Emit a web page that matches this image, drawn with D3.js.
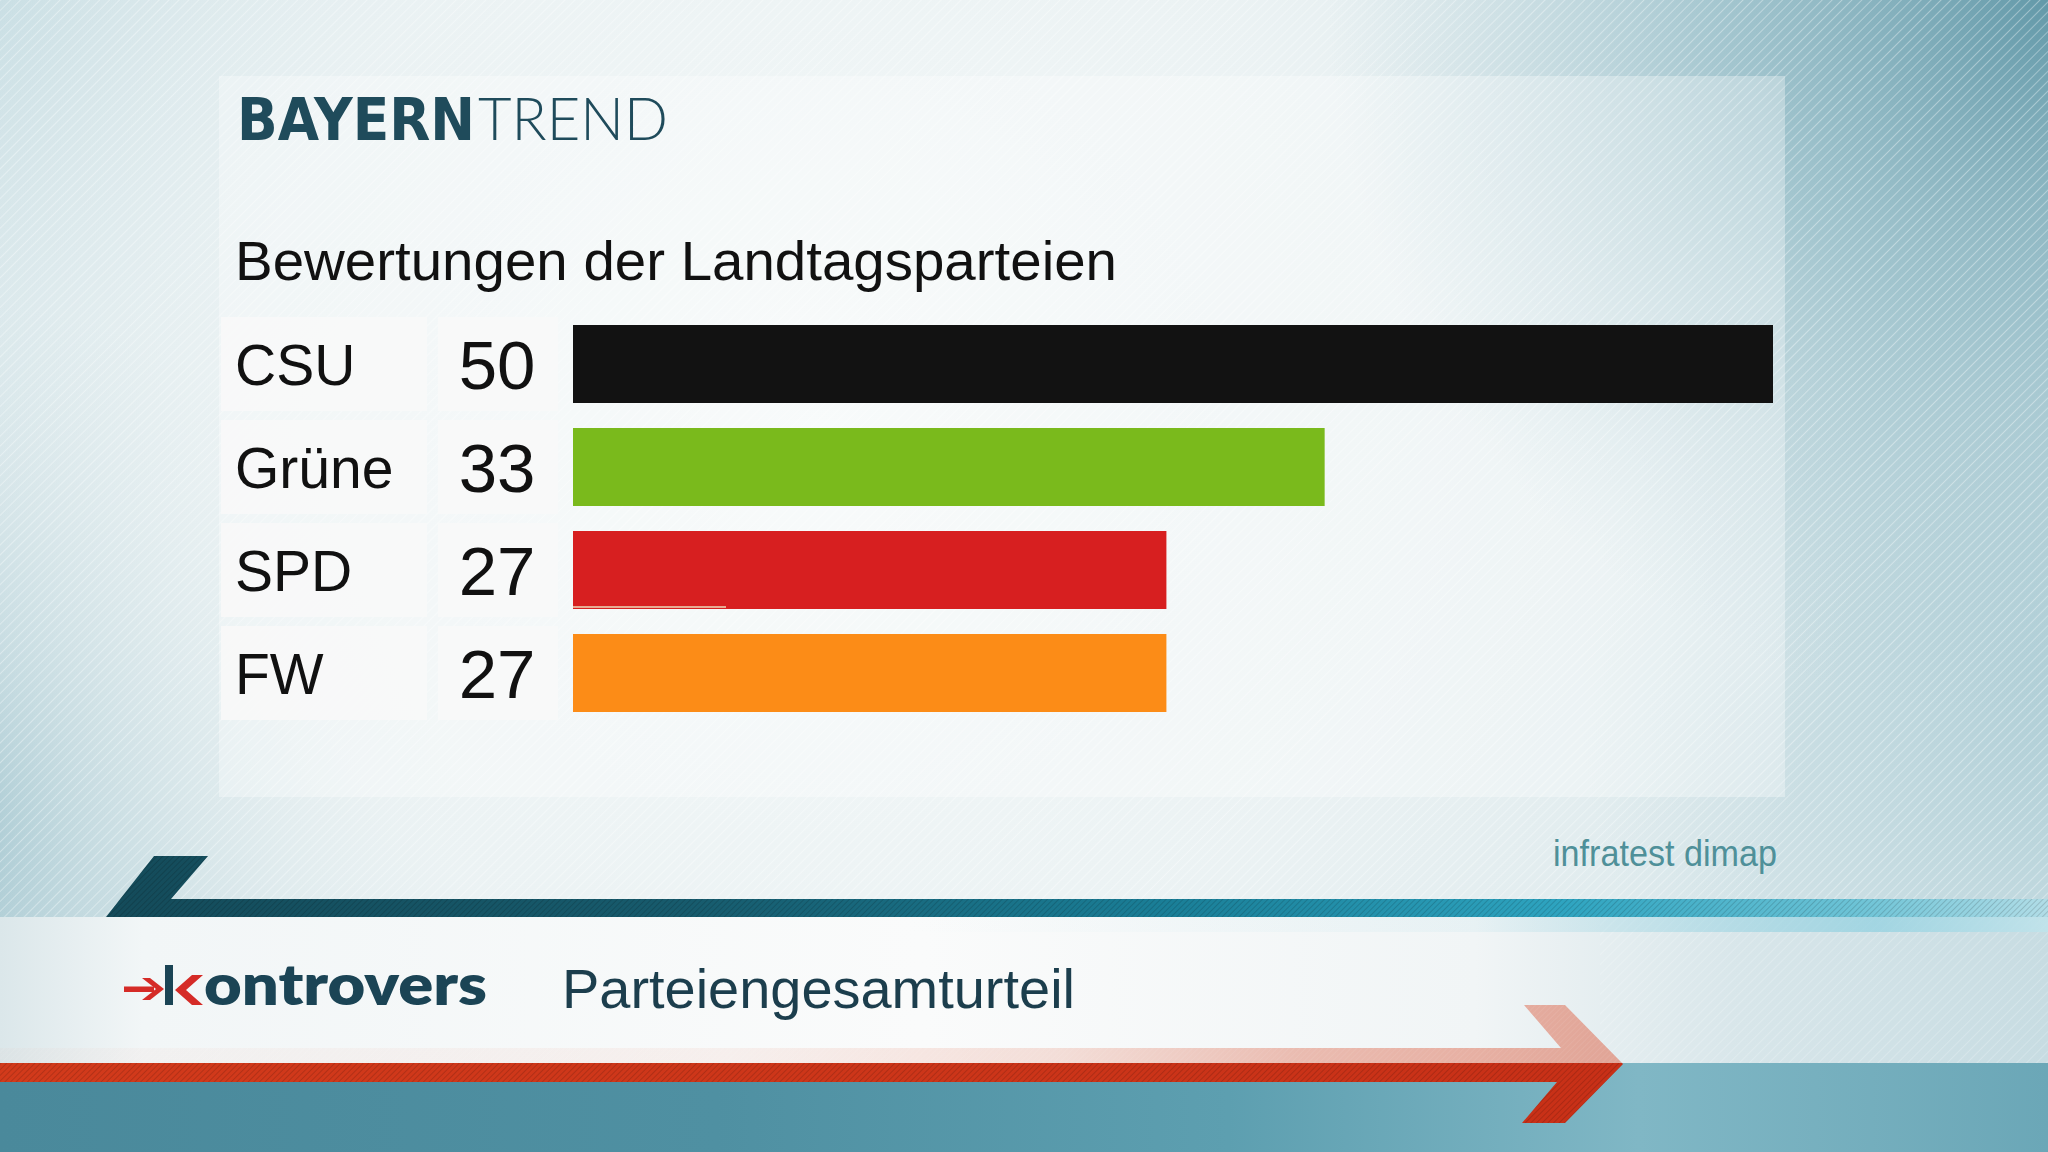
<!DOCTYPE html>
<html>
<head>
<meta charset="utf-8">
<script src="https://cdn.jsdelivr.net/npm/d3@7"></script>
<style>
html,body{margin:0;padding:0;overflow:hidden;background:#e3edef;}
svg{display:block;}
</style>
</head>
<body>
<script>
// ---- data ----
const parties = ["CSU", "Grüne", "SPD", "FW"];
const values = [50, 33, 27, 27];
const barColors = ["#121212", "#7aba1c", "#d71f20", "#fc8c17"];
const brandBold = "BAYERN";
const brandLight = "TREND";
const chartTitle = "Bewertungen der Landtagsparteien";
const sourceLabel = "infratest dimap";
const showName = "ontrovers";
const topicLabel = "Parteiengesamturteil";

const W = 2048, H = 1152;
const svg = d3.select("body").append("svg").attr("width", W).attr("height", H);
const defs = svg.append("defs");

function linGrad(id, stops, x1 = 0, y1 = 0, x2 = 1, y2 = 0, units) {
  const g = defs.append("linearGradient").attr("id", id)
    .attr("x1", x1).attr("y1", y1).attr("x2", x2).attr("y2", y2);
  if (units) g.attr("gradientUnits", units);
  stops.forEach(s => g.append("stop").attr("offset", s[0]).attr("stop-color", s[1]).attr("stop-opacity", s[2] == null ? 1 : s[2]));
}
function radGrad(id, cx, cy, r, stops) {
  const g = defs.append("radialGradient").attr("id", id)
    .attr("gradientUnits", "userSpaceOnUse").attr("cx", cx).attr("cy", cy).attr("r", r);
  stops.forEach(s => g.append("stop").attr("offset", s[0]).attr("stop-color", s[1]).attr("stop-opacity", s[2] == null ? 1 : s[2]));
}
function stripes(id, size, color, width, op) {
  const p = defs.append("pattern").attr("id", id).attr("patternUnits", "userSpaceOnUse")
    .attr("width", size).attr("height", size).attr("patternTransform", "rotate(45)");
  p.append("line").attr("x1", 0).attr("y1", 0).attr("x2", 0).attr("y2", size)
    .attr("stroke", color).attr("stroke-width", width).attr("stroke-opacity", op);
}

radGrad("glowC", 820, 430, 1050, [[0, "#f5f9f9", 1], [0.55, "#eef4f5", 0.85], [1, "#eef4f5", 0]]);
radGrad("cornerTR", 2048, 0, 720, [[0, "#6399a9", 1], [0.45, "#8ab6c2", 0.7], [1, "#a9cad3", 0]]);
radGrad("edgeL", -60, 820, 520, [[0, "#94bdc8", 1], [1, "#a9cad3", 0]]);
radGrad("cornerTL", 0, 0, 520, [[0, "#bcd7de", 0.9], [1, "#bcd7de", 0]]);
radGrad("edgeR", 2100, 700, 520, [[0, "#a8cad3", 0.9], [1, "#a8cad3", 0]]);
stripes("bgStripes", 7, "#ffffff", 2, 0.35);
stripes("fineDark", 4, "#000000", 1.3, 0.22);
stripes("fineLight", 4, "#ffffff", 1.3, 0.18);

linGrad("bandGrad", [[0, "#dbe7ea"], [0.07, "#f2f6f7"], [0.45, "#fafbfb"], [0.72, "#f1f5f6"], [0.85, "#d8e6ea"], [1, "#c7dce2"]]);
linGrad("lowGrad", [[0, "#4a899b"], [0.35, "#4f90a2"], [0.6, "#5d9fb0"], [0.8, "#80b7c5"], [1, "#6ba7b7"]]);
linGrad("tealGrad", [[0, "#144b5a"], [0.3, "#175b6d"], [0.55, "#1a7f98"], [0.75, "#2ea4c0"], [0.9, "#6cc3d6"], [1, "#b1dde7"]]);
linGrad("tealGlow", [[0, "#8fd0e0", 0], [0.5, "#8fd0e0", 0.1], [0.85, "#8fd0e0", 0.7], [1, "#bfe4ec", 0.8]]);
linGrad("redGrad", [[0, "#d23a1b"], [0.6, "#cc3519"], [1, "#c83017"]]);
linGrad("redPale", [[0, "#e58a72", 0.04], [0.45, "#e58a72", 0.1], [0.65, "#e58a72", 0.25], [0.8, "#e08069", 0.5], [1, "#df7d66", 0.65]]);

// ---- background ----
svg.append("rect").attr("width", W).attr("height", H).attr("fill", "#dce9ec");
svg.append("rect").attr("width", W).attr("height", 917).attr("fill", "url(#cornerTL)");
svg.append("rect").attr("width", W).attr("height", 917).attr("fill", "url(#edgeL)");
svg.append("rect").attr("width", W).attr("height", 917).attr("fill", "url(#edgeR)");
svg.append("rect").attr("width", W).attr("height", 917).attr("fill", "url(#glowC)");
svg.append("rect").attr("width", W).attr("height", 917).attr("fill", "url(#cornerTR)");
svg.append("rect").attr("width", W).attr("height", 917).attr("fill", "url(#bgStripes)");

// panel
svg.append("rect").attr("x", 219).attr("y", 76).attr("width", 1566).attr("height", 721)
  .attr("fill", "#ffffff").attr("fill-opacity", 0.32);

// ---- brand ----
svg.append("text").attr("x", 237).attr("y", 140)
  .attr("font-family", "DejaVu Sans, sans-serif").attr("font-weight", 700).attr("font-size", 58)
  .attr("fill", "#1f4b5b").attr("textLength", 238).attr("lengthAdjust", "spacingAndGlyphs").text(brandBold);
svg.append("text").attr("x", 478).attr("y", 140)
  .attr("font-family", "Lato, sans-serif").attr("font-weight", 300).attr("font-size", 60)
  .attr("fill", "#1f4b5b").attr("textLength", 190).attr("lengthAdjust", "spacingAndGlyphs").text(brandLight);

svg.append("text").attr("x", 235).attr("y", 280)
  .attr("font-family", "Liberation Sans, Arial, sans-serif").attr("font-size", 55)
  .attr("fill", "#111").attr("textLength", 882).attr("lengthAdjust", "spacingAndGlyphs").text(chartTitle);

// ---- chart ----
const y = d3.scalePoint().domain(parties).range([364, 673]);
// bar lengths as rendered in the graphic (bars start at the left edge of the bar area)
const x0 = 4.5;
const x = d3.scaleLinear().domain([x0, 50]).range([573, 1773]);
const barH = 78, cellH = 94;

const rows = svg.append("g").selectAll("g").data(parties).join("g")
  .attr("transform", d => `translate(0,${y(d)})`);

rows.append("rect").attr("x", 221).attr("y", -cellH / 2).attr("width", 206).attr("height", cellH)
  .attr("fill", "#f8f8f8").attr("fill-opacity", 0.9);
rows.append("rect").attr("x", 438).attr("y", -cellH / 2).attr("width", 120).attr("height", cellH)
  .attr("fill", "#f8f8f8").attr("fill-opacity", 0.9);

rows.append("rect").attr("x", x(x0)).attr("y", -barH / 2)
  .attr("width", (d, i) => x(values[i]) - x(x0)).attr("height", barH)
  .attr("fill", (d, i) => barColors[i]);

rows.append("text").attr("x", 235).attr("y", 21)
  .attr("font-family", "Liberation Sans, Arial, sans-serif").attr("font-size", 57)
  .attr("fill", "#111").text(d => d);
rows.append("text").attr("x", 497).attr("y", 25).attr("text-anchor", "middle")
  .attr("font-family", "Liberation Sans, Arial, sans-serif").attr("font-size", 69)
  .attr("fill", "#111").text((d, i) => values[i]);

// small residual line under the SPD bar
svg.append("rect").attr("x", 573).attr("y", 606).attr("width", 153).attr("height", 2)
  .attr("fill", "#e7ab93");

// source
svg.append("text").attr("x", 1553).attr("y", 866)
  .attr("font-family", "Liberation Sans, Arial, sans-serif").attr("font-size", 36)
  .attr("fill", "#4f9099").attr("textLength", 224).attr("lengthAdjust", "spacingAndGlyphs").text(sourceLabel);

// ---- lower band ----
svg.append("rect").attr("x", 0).attr("y", 917).attr("width", W).attr("height", 150).attr("fill", "url(#bandGrad)");
svg.append("rect").attr("x", 0).attr("y", 1063).attr("width", W).attr("height", 89).attr("fill", "url(#lowGrad)");
svg.append("rect").attr("x", 1600).attr("y", 917).attr("width", 448).attr("height", 146).attr("fill", "url(#bgStripes)").attr("opacity", 0.6);

// teal arrow
const tealPts = [[154, 856], [208, 856], [171, 899], [2048, 899], [2048, 917], [106, 917]];
svg.append("rect").attr("x", 900).attr("y", 917).attr("width", 1148).attr("height", 15).attr("fill", "url(#tealGlow)");
svg.append("polygon").attr("points", tealPts.map(p => p.join(",")).join(" ")).attr("fill", "url(#tealGrad)");
svg.append("polygon").attr("points", tealPts.map(p => p.join(",")).join(" ")).attr("fill", "url(#fineDark)");

// red arrow
const redPts = [[0, 1048], [1561, 1048], [1524, 1005], [1565, 1005], [1623, 1064], [1565, 1123], [1522, 1123], [1557, 1082], [0, 1082]];
defs.append("clipPath").attr("id", "clipLow").append("rect").attr("x", 0).attr("y", 1063).attr("width", W).attr("height", 200);
defs.append("clipPath").attr("id", "clipHigh").append("rect").attr("x", 0).attr("y", 0).attr("width", W).attr("height", 1063);
const redStr = redPts.map(p => p.join(",")).join(" ");
svg.append("polygon").attr("points", redStr).attr("fill", "url(#redPale)").attr("clip-path", "url(#clipHigh)");
svg.append("polygon").attr("points", redStr).attr("fill", "url(#fineLight)").attr("clip-path", "url(#clipHigh)").attr("opacity", 0.6);
svg.append("polygon").attr("points", redStr).attr("fill", "url(#redGrad)").attr("clip-path", "url(#clipLow)");
svg.append("polygon").attr("points", redStr).attr("fill", "url(#fineDark)").attr("clip-path", "url(#clipLow)");

// ---- kontrovers logo ----
const logo = svg.append("g");
logo.append("rect").attr("x", 124).attr("y", 986.5).attr("width", 30).attr("height", 5.5).attr("fill", "#d52b27");
logo.append("path").attr("d", "M142,978 L150,978 L164,989 L150,1000 L142,1000 L156,989 Z").attr("fill", "#d52b27");
logo.append("rect").attr("x", 165).attr("y", 965).attr("width", 8).attr("height", 40).attr("fill", "#1b4455");
logo.append("path").attr("d", "M192,975 L203,975 L186,990 L203,1005 L192,1005 L175,990 Z").attr("fill", "#d52b27");
logo.append("text").attr("x", 204).attr("y", 1005)
  .attr("font-family", "Lato, sans-serif").attr("font-weight", 800).attr("font-size", 56)
  .attr("fill", "#1b4455").attr("textLength", 283).attr("lengthAdjust", "spacingAndGlyphs").text(showName);

svg.append("text").attr("x", 562).attr("y", 1008)
  .attr("font-family", "Liberation Sans, Arial, sans-serif").attr("font-size", 56)
  .attr("fill", "#1c3e4d").attr("textLength", 513).attr("lengthAdjust", "spacingAndGlyphs").text(topicLabel);
</script>
</body>
</html>
